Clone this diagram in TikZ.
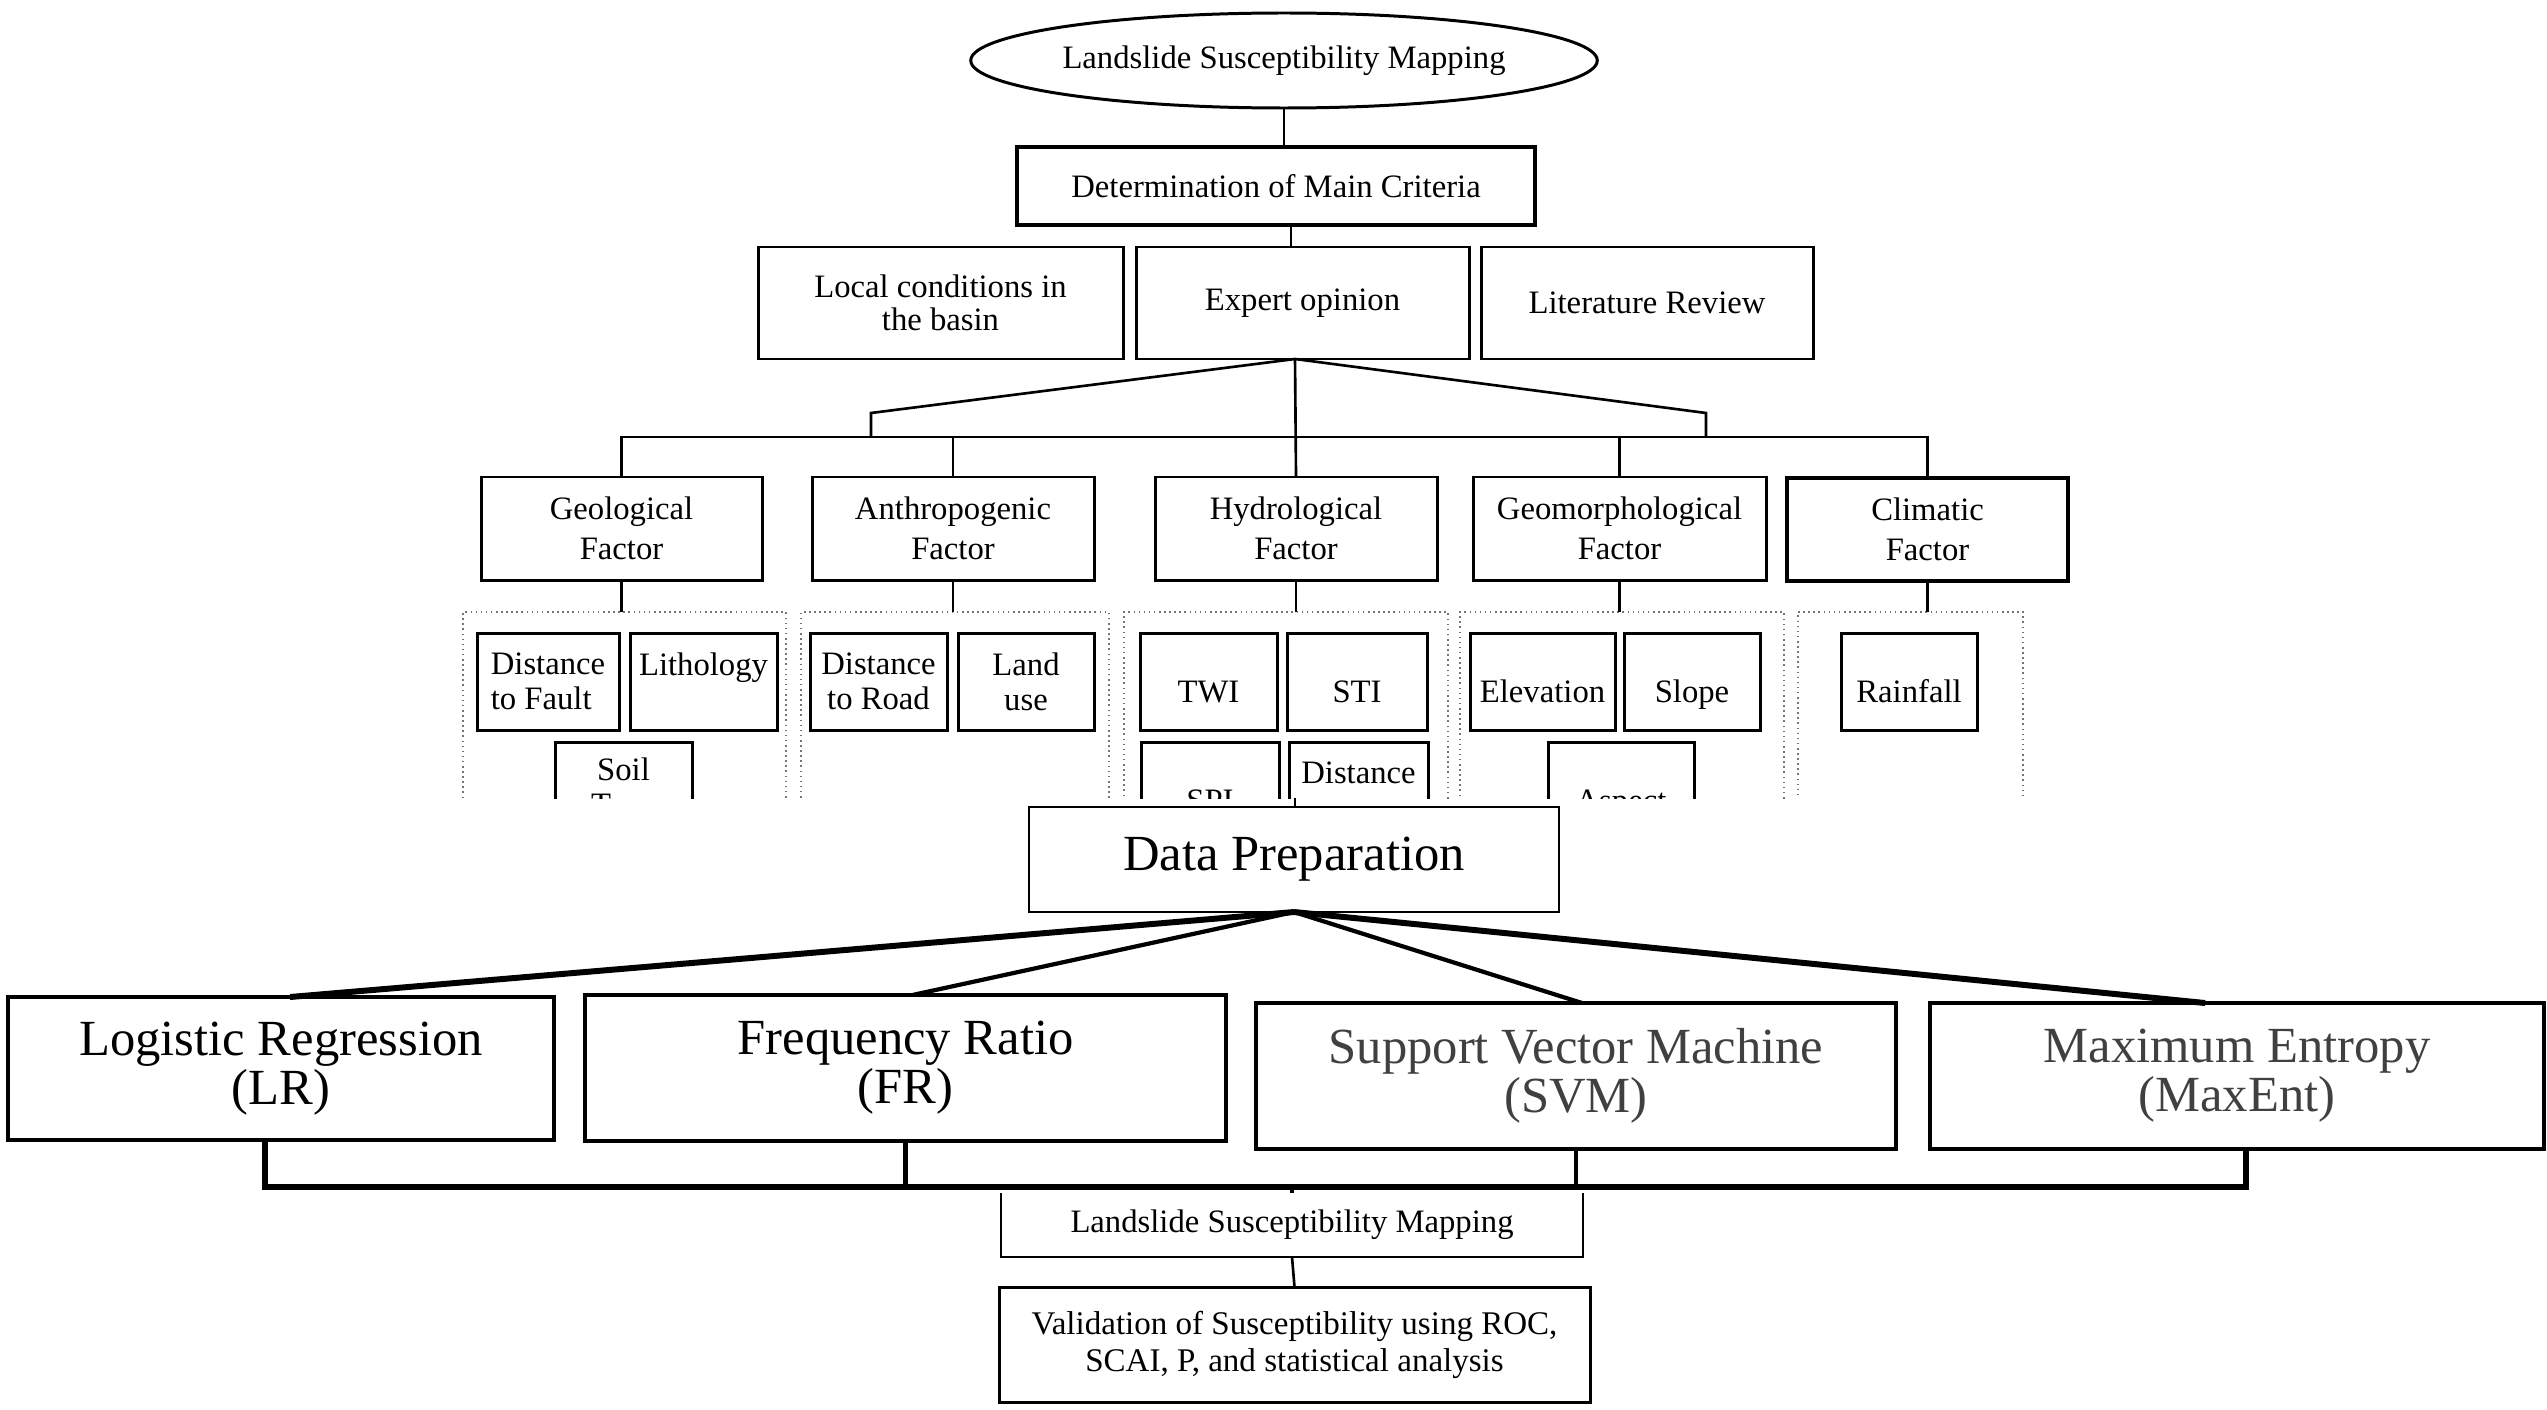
\documentclass[tikz,border=0pt]{standalone}
\usepackage{fontspec}
\setmainfont{Liberation Serif}
\usetikzlibrary{shapes,positioning,calc}

\begin{document}
\begin{tikzpicture}[x=1cm, y=1cm,
    every node/.style={inner sep=0pt, outer sep=0pt},
    lsm text/.style={font=\fontsize{9.3}{10}\selectfont},
    model text/.style={font=\fontsize{14.4}{14}\selectfont},
    crit block/.style={draw, line width=0.85pt, rectangle, align=center, lsm text},
    factor block/.style={crit block, minimum height=1.03cm, font=\fontsize{9.3}{11.4}\selectfont},
    layer block/.style={crit block, minimum height=0.97cm},
    one line/.style={text height=12pt, text depth=0pt},
    group block/.style={draw=black!55, densely dotted, line width=0.45pt, rectangle, minimum height=2.6cm},
    model block/.style={draw, line width=1.3pt, rectangle, align=center, model text},
    link/.style={line width=0.75pt}]
    \useasboundingbox (0,0) rectangle (25.47,-14.09);

    \begin{scope}
    \clip (0,0) rectangle (25.47,-7.98);
    \node[ellipse, draw, line width=0.85pt, minimum width=6.16cm, minimum height=0.95cm, lsm text] (lsm) at (12.84,-0.605) {Landslide Susceptibility Mapping};
    \node[crit block, line width=1.15pt, minimum width=5.18cm, minimum height=0.78cm] (crit) at (12.76,-1.86) {Determination of Main Criteria};
    \node[crit block, minimum width=3.65cm, minimum height=1.12cm, font=\fontsize{9.3}{9.4}\selectfont] (local) at (9.405,-3.03) {Local conditions in\\the basin};
    \node[crit block, minimum width=3.33cm, minimum height=1.12cm] (expert) at (13.025,-3.03) {Expert opinion};
    \node[crit block, minimum width=3.32cm, minimum height=1.12cm] (lit) at (16.47,-3.03) {Literature Review};

    \node[factor block, minimum width=2.81cm] (geo) at (6.215,-5.285) {Geological\\Factor};
    \node[factor block, minimum width=2.82cm] (anth) at (9.53,-5.285) {Anthropogenic\\Factor};
    \node[factor block, minimum width=2.82cm] (hydro) at (12.96,-5.285) {Hydrological\\Factor};
    \node[factor block, minimum width=2.93cm] (geom) at (16.195,-5.285) {Geomorphological\\Factor};
    \node[factor block, line width=1.1pt, minimum width=2.81cm] (clim) at (19.275,-5.295) {Climatic\\Factor};

    \draw[link] (lsm.south) -- (lsm.south |- crit.north);
    \draw[link] ([xshift=0.15cm]crit.south) -- ([xshift=0.15cm]crit.south |- expert.north);
    \coordinate (hub) at (12.95,-3.59);
    \coordinate (kneeL) at (8.71,-4.13);
    \coordinate (kneeR) at (17.06,-4.13);
    \coordinate (bus) at (0,-4.37);
    \draw[link] (geo.north) -- (geo.north |- bus) -- (clim.north |- bus) -- (clim.north);
    \draw[link] (anth.north) -- (anth.north |- bus);
    \draw[link] (geom.north) -- (geom.north |- bus);
    \draw[link] (hub) -- (hydro.north);
    \draw[link] (hub) -- (kneeL) -- (kneeL |- bus);
    \draw[link] (hub) -- (kneeR) -- (kneeR |- bus);

    \node[group block, minimum width=3.23cm] (geogrp) at (6.245,-7.42) {};
    \node[group block, minimum width=3.08cm] (anthgrp) at (9.55,-7.42) {};
    \node[group block, minimum width=3.24cm] (hydrogrp) at (12.86,-7.42) {};
    \node[group block, minimum width=3.24cm] (geomgrp) at (16.22,-7.42) {};
    \node[group block, minimum width=2.25cm] (climgrp) at (19.105,-7.42) {};
    \foreach \f in {geo,anth,hydro,geom,clim}
        \draw[link] (\f.south) -- (\f.south |- \f grp.north);

    \node[layer block, align=left, minimum width=1.42cm] (fault) at (5.48,-6.815) {Distance\\to Fault};
    \node[layer block, minimum width=1.47cm] (litho) at (7.035,-6.815) {Lithology\\ ~};
    \node[layer block, minimum width=1.37cm] (soil) at (6.235,-7.905) {Soil\\Type};
    \node[layer block, minimum width=1.37cm] (road) at (8.785,-6.815) {Distance\\to Road};
    \node[layer block, minimum width=1.36cm] (landuse) at (10.26,-6.815) {Land\\use};
    \node[layer block, one line, minimum width=1.37cm] (twi) at (12.085,-6.815) {TWI};
    \node[layer block, one line, minimum width=1.40cm] (sti) at (13.57,-6.815) {STI};
    \node[layer block, one line, minimum width=1.38cm] (spi) at (12.10,-7.905) {SPI};
    \node[layer block, minimum width=1.39cm] (dist) at (13.585,-7.905) {Distance\\ ~};
    \node[layer block, one line, minimum width=1.45cm] (elev) at (15.425,-6.815) {Elevation};
    \node[layer block, one line, minimum width=1.36cm] (slope) at (16.92,-6.815) {Slope};
    \node[layer block, one line, minimum width=1.46cm] (aspect) at (16.21,-7.905) {Aspect};
    \node[layer block, one line, minimum width=1.36cm] (rain) at (19.09,-6.815) {Rainfall};
    \end{scope}

    \coordinate (cut) at (12.95,-7.98);
    \node[draw, line width=0.65pt, minimum width=5.30cm, minimum height=1.05cm, model text] (prep) at (12.94,-8.595) {Data Preparation};
    \draw[link] (cut) -- (cut |- prep.north);

    \node[model block, minimum width=5.46cm, minimum height=1.43cm] (lr) at (2.81,-10.685) {Logistic Regression\\(LR)};
    \node[model block, minimum width=6.41cm, minimum height=1.46cm] (fr) at (9.055,-10.68) {Frequency Ratio\\(FR)};
    \node[model block, minimum width=6.40cm, minimum height=1.46cm, text=black!75] (svm) at (15.76,-10.76) {Support Vector Machine\\(SVM)};
    \node[model block, minimum width=6.14cm, minimum height=1.46cm, text=black!75] (maxent) at (22.37,-10.76) {Maximum Entropy\\(MaxEnt)};

    \draw[line width=1.7pt] (prep.south) -- ([xshift=0.09cm]lr.north);
    \draw[line width=1.2pt] (prep.south) -- ([xshift=0.07cm]fr.north);
    \draw[line width=1.2pt] (prep.south) -- ([xshift=0.06cm]svm.north);
    \draw[line width=1.7pt] (prep.south) -- ([xshift=-0.32cm]maxent.north);

    \coordinate (mbus) at (0,-11.87);
    \coordinate (lrdrop) at ([xshift=-0.16cm]lr.south);
    \coordinate (medrop) at ([xshift=0.09cm]maxent.south);
    \draw[line width=1.5pt] (lrdrop) |- (medrop |- mbus) -- (medrop);
    \draw[line width=1.2pt] (fr.south) -- (fr.south |- mbus);
    \draw[line width=1.2pt] (svm.south) -- (svm.south |- mbus);

    \node[minimum width=5.82cm, minimum height=0.64cm, lsm text] (lsmout) at (12.92,-12.25) {Landslide Susceptibility Mapping};
    \draw[line width=0.65pt] (lsmout.north west) -- (lsmout.south west) -- (lsmout.south east) -- (lsmout.north east);
    \draw[line width=0.9pt] (lsmout.north |- mbus) -- (lsmout.north);

    \node[crit block, minimum width=5.91cm, minimum height=1.15cm, font=\fontsize{9.4}{10.5}\selectfont] (valid) at (12.945,-13.445) {Validation of Susceptibility using ROC,\\SCAI, P, and statistical analysis};
    \draw[link] (lsmout.south) -- (valid.north);
\end{tikzpicture}
\end{document}
